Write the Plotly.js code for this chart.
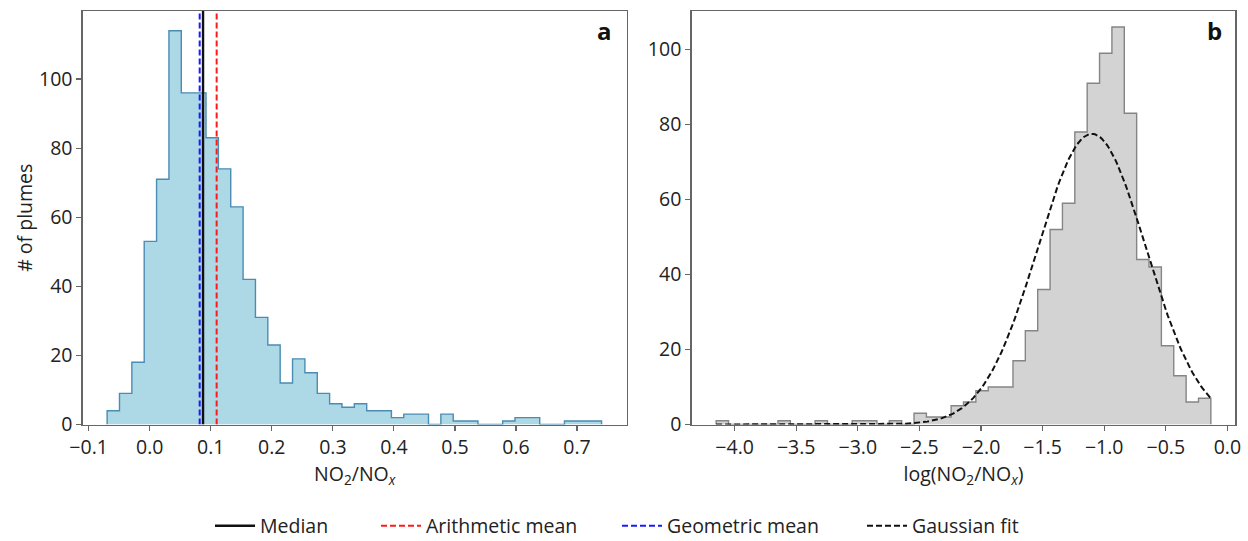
<!DOCTYPE html>
<html>
<head>
<meta charset="utf-8">
<script src="https://cdn.plot.ly/plotly-3.0.1.min.js"></script>
<style>
  html, body { margin: 0; padding: 0; background: #ffffff; }
  #chart { width: 1248px; height: 541px; }
</style>
</head>
<body>
<div id="chart"></div>
<script>
// Panel a: NO2/NOx ratio histogram (40 equal bins)
const ratioBinStart = -0.0697;
const ratioBinWidth = 0.020245;
const ratioCounts = [4, 9, 18, 53, 71, 114, 96, 96, 83, 74,
                     63, 42, 31, 23, 12, 19, 15, 9, 6, 5,
                     6, 4, 4, 2, 3, 3, 0, 3, 1, 1,
                     0, 0, 1, 2, 2, 0, 0, 1, 1, 1];

// Summary statistics of the ratio
const medianRatio = 0.0874;
const arithmeticMean = 0.1097;
const geometricMean = 0.0819;

// Panel b: log10(NO2/NOx) histogram (40 equal bins)
const logBinStart = -4.150;
const logBinWidth = 0.1004;
const logCounts = [1, 0, 0, 0, 0, 1, 0, 0, 1, 0,
                   0, 1, 1, 0, 1, 0, 3, 2, 2, 5,
                   6, 9, 10, 10, 17, 25, 36, 52, 59, 78,
                   91, 99, 106, 83, 44, 42, 21, 13, 6, 7];

// Gaussian fitted to the log-ratio distribution
const fitMean = -1.10;
const fitSigma = 0.44;
const fitPeak = 77.5;

const legendNames = ['Median', 'Arithmetic mean', 'Geometric mean', 'Gaussian fit'];

// Axis ranges
const xRangeA = [-0.1097, 0.7813];
const yRangeA = [0, 119.7];
const xRangeB = [-4.35, 0.066];
const yRangeB = [0, 110.25];

function stepOutline(start, width, counts) {
  const edges = counts.map((_, i) => start + i * width);
  const last = start + counts.length * width;
  return {
    x: [start].concat(edges).concat([last]),
    y: [0].concat(counts).concat([0])
  };
}

const histA = stepOutline(ratioBinStart, ratioBinWidth, ratioCounts);
const histB = stepOutline(logBinStart, logBinWidth, logCounts);

// Fitted curve sampled across the log-ratio data span
const fitX = [];
const fitY = [];
const logEnd = logBinStart + logCounts.length * logBinWidth;
const nFit = 300;
for (let i = 0; i <= nFit; i++) {
  const x = logBinStart + (logEnd - logBinStart) * i / nFit;
  fitX.push(x);
  fitY.push(fitPeak * Math.exp(-0.5 * Math.pow((x - fitMean) / fitSigma, 2)));
}

const dashPattern = '6px,3px';

const traces = [
  {
    type: 'scatter', mode: 'lines', x: histA.x, y: histA.y,
    xaxis: 'x', yaxis: 'y',
    line: { shape: 'hv', color: '#4a8cb3', width: 1.4 },
    fill: 'tozeroy', fillcolor: '#add8e6',
    showlegend: false, hoverinfo: 'skip'
  },
  {
    type: 'scatter', mode: 'lines', x: [medianRatio, medianRatio], y: yRangeA,
    xaxis: 'x', yaxis: 'y',
    line: { color: '#111111', width: 2.4 },
    name: legendNames[0], legend: 'legend'
  },
  {
    type: 'scatter', mode: 'lines', x: [arithmeticMean, arithmeticMean], y: yRangeA,
    xaxis: 'x', yaxis: 'y',
    line: { color: '#ff1a1a', width: 2, dash: dashPattern },
    name: legendNames[1], legend: 'legend2'
  },
  {
    type: 'scatter', mode: 'lines', x: [geometricMean, geometricMean], y: yRangeA,
    xaxis: 'x', yaxis: 'y',
    line: { color: '#1a1aff', width: 2, dash: dashPattern },
    name: legendNames[2], legend: 'legend3'
  },
  {
    type: 'scatter', mode: 'lines', x: histB.x, y: histB.y,
    xaxis: 'x2', yaxis: 'y2',
    line: { shape: 'hv', color: '#858585', width: 1.4 },
    fill: 'tozeroy', fillcolor: '#d3d3d3',
    showlegend: false, hoverinfo: 'skip'
  },
  {
    type: 'scatter', mode: 'lines', x: fitX, y: fitY,
    xaxis: 'x2', yaxis: 'y2',
    line: { color: '#111111', width: 2, dash: dashPattern },
    name: legendNames[3], legend: 'legend4'
  }
];

const textFont = { family: '"Open Sans", sans-serif', size: 19.5, color: '#222222' };
const spine = '#666666';

function baseAxis(extra) {
  return Object.assign({
    showline: true, mirror: true, linecolor: spine, linewidth: 1.3,
    ticks: 'outside', ticklen: 5, tickwidth: 1.2, tickcolor: spine,
    showgrid: false, zeroline: false, tickfont: textFont,
    fixedrange: true, automargin: false
  }, extra);
}

// Each legend entry sits at its own spot along the bottom row
function legendAt(px) {
  return {
    orientation: 'h',
    xref: 'container', yref: 'container',
    x: px / 1248, xanchor: 'left',
    y: 15 / 541, yanchor: 'middle',
    bgcolor: 'rgba(0,0,0,0)', borderwidth: 0,
    font: textFont,
    itemwidth: 40
  };
}

const layout = {
  width: 1248, height: 541,
  margin: { l: 0, r: 0, t: 0, b: 0, autoexpand: false },
  paper_bgcolor: '#ffffff', plot_bgcolor: '#ffffff',
  font: { family: '"Open Sans", sans-serif', color: '#222222' },
  xaxis: baseAxis({
    domain: [0.06627, 0.50216], range: xRangeA, anchor: 'y',
    tick0: 0, dtick: 0.1, tickformat: '.1f',
    title: { text: 'NO<sub>2</sub>/NO<sub><i>x</i></sub>', font: textFont, standoff: 5 }
  }),
  yaxis: baseAxis({
    domain: [0.21534, 0.97967], range: yRangeA, anchor: 'x',
    tick0: 0, dtick: 20,
    title: { text: '# of plumes', font: textFont, standoff: 1 }
  }),
  xaxis2: baseAxis({
    domain: [0.55409, 0.98998], range: xRangeB, anchor: 'y2',
    tick0: 0, dtick: 0.5, tickformat: '.1f',
    title: { text: 'log(NO<sub>2</sub>/NO<sub><i>x</i></sub>)', font: textFont, standoff: 5 }
  }),
  yaxis2: baseAxis({
    domain: [0.21534, 0.97967], range: yRangeB, anchor: 'x2',
    tick0: 0, dtick: 20
  }),
  legend: legendAt(210),
  legend2: legendAt(376),
  legend3: legendAt(617),
  legend4: legendAt(862),
  annotations: [
    {
      xref: 'paper', yref: 'paper', x: 614 / 1248, y: (541 - 31) / 541,
      xanchor: 'right', yanchor: 'middle', showarrow: false,
      text: '<b>a</b>', font: { family: '"Open Sans", sans-serif', size: 24, color: '#111111' }
    },
    {
      xref: 'paper', yref: 'paper', x: 1224 / 1248, y: (541 - 31) / 541,
      xanchor: 'right', yanchor: 'middle', showarrow: false,
      text: '<b>b</b>', font: { family: '"Open Sans", sans-serif', size: 24, color: '#111111' }
    }
  ],
  showlegend: true
};

Plotly.newPlot('chart', traces, layout, { displayModeBar: false, staticPlot: true });
</script>
</body>
</html>
